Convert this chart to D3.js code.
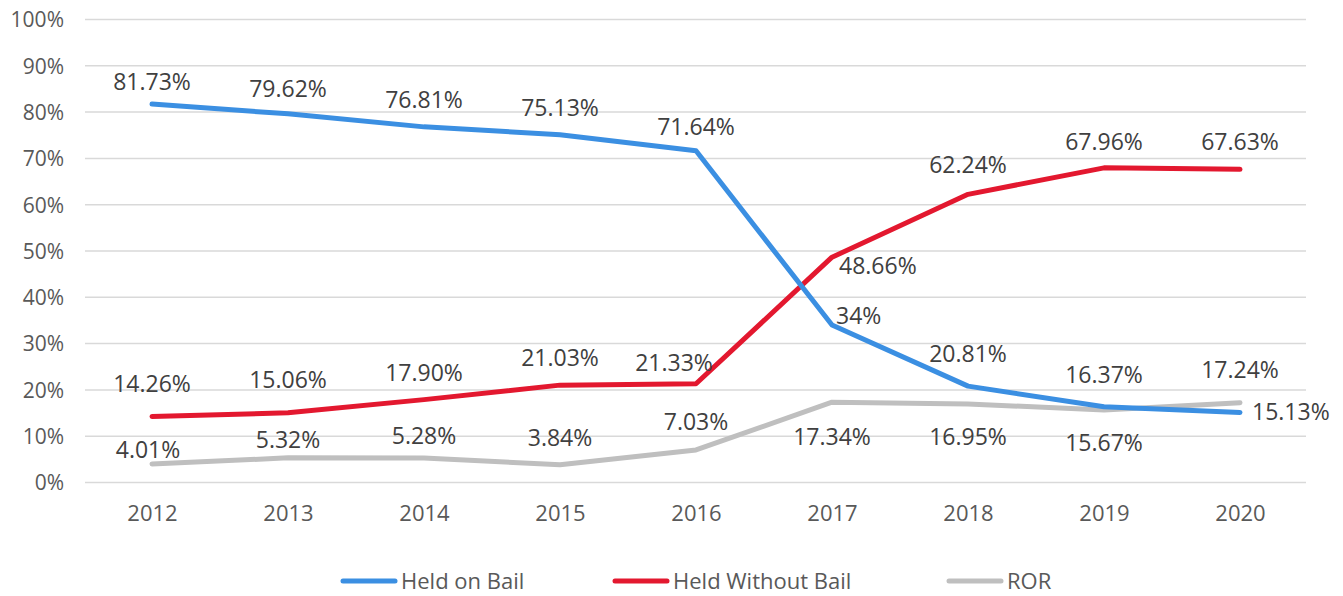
<!DOCTYPE html>
<html>
<head>
<meta charset="utf-8">
<script src="https://cdn.jsdelivr.net/npm/d3@7"></script>
<style>
  html, body { margin: 0; padding: 0; background: #ffffff; }
  svg { display: block; }
  svg text { font-family: "Open Sans", "Noto Sans", sans-serif; }
</style>
</head>
<body>
<svg id="chart" width="1343" height="596"></svg>
<script>
// Share of defendants by pretrial outcome, 2012–2020 (percent)
const years = ["2012", "2013", "2014", "2015", "2016", "2017", "2018", "2019", "2020"];
const heldOnBail = [81.73, 79.62, 76.81, 75.13, 71.64, 34, 20.81, 16.37, 15.13];
const heldWithoutBail = [14.26, 15.06, 17.90, 21.03, 21.33, 48.66, 62.24, 67.96, 67.63];
const ror = [4.01, 5.32, 5.28, 3.84, 7.03, 17.34, 16.95, 15.67, 17.24];
const seriesNames = ["Held on Bail", "Held Without Bail", "ROR"];
const yTicks = [0, 10, 20, 30, 40, 50, 60, 70, 80, 90, 100];

// Label text for each point (as printed on the chart)
const heldOnBailLabels = ["81.73%", "79.62%", "76.81%", "75.13%", "71.64%", "34%", "20.81%", "16.37%", "15.13%"];
const heldWithoutBailLabels = ["14.26%", "15.06%", "17.90%", "21.03%", "21.33%", "48.66%", "62.24%", "67.96%", "67.63%"];
const rorLabels = ["4.01%", "5.32%", "5.28%", "3.84%", "7.03%", "17.34%", "16.95%", "15.67%", "17.24%"];

// Label placement relative to each point: [dx, dy, anchor]
const bailPlace = [[0,-22,"middle"],[0,-25,"middle"],[0,-27,"middle"],[0,-27,"middle"],[0,-24,"middle"],
                   [4,-9,"start"],[0,-32,"middle"],[0,-32,"middle"],[12,0,"start"]];
const noBailPlace = [[0,-33,"middle"],[0,-33,"middle"],[0,-27,"middle"],[0,-27,"middle"],[-22,-21,"middle"],
                     [7,9,"start"],[0,-29,"middle"],[0,-26,"middle"],[0,-27,"middle"]];
const rorPlace = [[-4,-14,"middle"],[0,-18,"middle"],[0,-22,"middle"],[0,-27,"middle"],[0,-28,"middle"],
                  [0,35,"middle"],[0,33,"middle"],[0,33,"middle"],[0,-33,"middle"]];

const colors = ["#3b8fe2", "#e3182f", "#bfbfbf"];

const svg = d3.select("#chart");
const margin = { left: 84, right: 35, top: 19.5, bottom: 113.5 };
const W = 1343, H = 596;

const x = d3.scalePoint()
  .domain(years)
  .range([margin.left, W - margin.right])
  .padding(0.5);

const y = d3.scaleLinear()
  .domain([0, 100])
  .range([H - margin.bottom, margin.top]);

// Horizontal gridlines
svg.append("g")
  .selectAll("line")
  .data(yTicks)
  .join("line")
  .attr("x1", margin.left + 1)
  .attr("x2", W - margin.right - 2)
  .attr("y1", d => y(d))
  .attr("y2", d => y(d))
  .attr("stroke", "#d9d9d9")
  .attr("stroke-width", 1.5);

// Y axis labels
const yAxis = d3.axisLeft(y).tickValues(yTicks).tickFormat(d => d + "%").tickSize(0).tickPadding(0);
const gy = svg.append("g").attr("transform", `translate(64,0)`).call(yAxis);
gy.attr("font-family", null).attr("font-size", null);
gy.select(".domain").remove();
gy.selectAll("text")
  .attr("fill", "#595959")
  .style("font-size", "21px")
  .attr("dy", "0.35em");

// X axis labels
const xAxis = d3.axisBottom(x).tickSize(0).tickPadding(0);
const gx = svg.append("g").attr("transform", `translate(0,${H - margin.bottom + 31})`).call(xAxis);
gx.attr("font-family", null).attr("font-size", null);
gx.select(".domain").remove();
gx.selectAll("text")
  .attr("fill", "#595959")
  .style("font-size", "22px")
  .attr("dy", "0.35em");

const series = [
  { name: seriesNames[0], values: heldOnBail, labels: heldOnBailLabels, place: bailPlace, color: colors[0] },
  { name: seriesNames[1], values: heldWithoutBail, labels: heldWithoutBailLabels, place: noBailPlace, color: colors[1] },
  { name: seriesNames[2], values: ror, labels: rorLabels, place: rorPlace, color: colors[2] }
];

const line = d3.line()
  .x((d, i) => x(years[i]))
  .y(d => y(d));

// Draw lines in back-to-front order: ROR, held without bail, held on bail
const drawOrder = [2, 1, 0];
svg.append("g")
  .selectAll("path")
  .data(drawOrder.map(i => series[i]))
  .join("path")
  .attr("d", d => line(d.values))
  .attr("fill", "none")
  .attr("stroke", d => d.color)
  .attr("stroke-width", 5)
  .attr("stroke-linecap", "round")
  .attr("stroke-linejoin", "round");

// Data labels
series.forEach(s => {
  svg.append("g")
    .selectAll("text")
    .data(s.values)
    .join("text")
    .attr("x", (d, i) => x(years[i]) + s.place[i][0])
    .attr("y", (d, i) => y(d) + s.place[i][1])
    .attr("text-anchor", (d, i) => s.place[i][2])
    .attr("dy", "0.35em")
    .attr("fill", "#404040")
    .style("font-size", "23px")
    .text((d, i) => s.labels[i]);
});

// Legend
const legendX = [341, 613, 947];
const legendY = 581;
const lg = svg.append("g");
series.forEach((s, i) => {
  lg.append("line")
    .attr("x1", legendX[i] + 2)
    .attr("x2", legendX[i] + 54)
    .attr("y1", legendY)
    .attr("y2", legendY)
    .attr("stroke", s.color)
    .attr("stroke-width", 5)
    .attr("stroke-linecap", "round");
  lg.append("text")
    .attr("x", legendX[i] + 60)
    .attr("y", legendY)
    .attr("dy", "0.35em")
    .attr("fill", "#595959")
    .style("font-size", "22px")
    .text(s.name);
});
</script>
</body>
</html>
